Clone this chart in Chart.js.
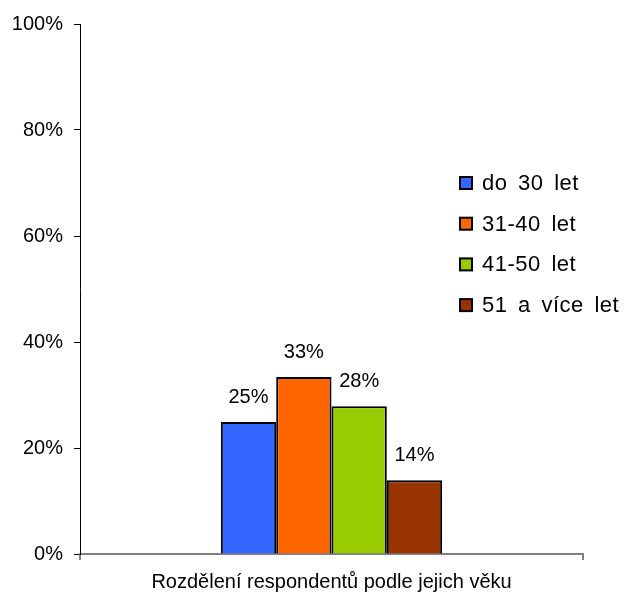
<!DOCTYPE html>
<html>
<head>
<meta charset="utf-8">
<script src="https://cdn.jsdelivr.net/npm/chart.js@4.4.1/dist/chart.umd.min.js"></script>
<style>
    html, body { margin: 0; padding: 0; background: #ffffff; }
    #wrap { width: 624px; height: 595px; }
</style>
</head>
<body>
<div id="wrap"><canvas id="barChart" width="624" height="595"></canvas></div>
<script>
// ==========================================
// Data
// ==========================================
const categories = ["Rozdělení respondentů podle jejich věku"];
const seriesNames = ["do 30 let", "31-40 let", "41-50 let", "51 a více let"];
const seriesValues = [24.9, 33.4, 27.9, 13.9];
const seriesColors = ["#3366FF", "#FF6600", "#99CC00", "#993300"];
const yTicks = [0, 20, 40, 60, 80, 100];

const FONT = "'Liberation Sans', Arial, sans-serif";

// ==========================================
// Value labels above bars
// ==========================================
const valueLabels = {
    id: "valueLabels",
    afterDatasetsDraw(chart) {
        const ctx = chart.ctx;
        ctx.save();
        ctx.font = "20px " + FONT;
        ctx.fillStyle = "#000000";
        ctx.textAlign = "center";
        ctx.textBaseline = "alphabetic";
        chart.data.datasets.forEach((ds, i) => {
            const meta = chart.getDatasetMeta(i);
            meta.data.forEach((bar, j) => {
                ctx.fillText(Math.round(ds.data[j]) + "%", bar.x, bar.y - 19);
            });
        });
        ctx.restore();
    }
};

// ==========================================
// Legend drawn on the plot (right side)
// ==========================================
const sideLegend = {
    id: "sideLegend",
    afterDraw(chart) {
        const ctx = chart.ctx;
        ctx.save();
        ctx.font = "22px " + FONT;
        ctx.textBaseline = "middle";
        ctx.textAlign = "left";
        chart.data.datasets.forEach((ds, i) => {
            const y = 183 + i * 40.7;
            ctx.fillStyle = ds.backgroundColor;
            ctx.fillRect(460, y - 6, 12, 12);
            ctx.strokeStyle = "#000000";
            ctx.lineWidth = 2;
            ctx.strokeRect(460, y - 6, 12, 12);
            ctx.fillStyle = "#000000";
            ctx.letterSpacing = "0.5px";
            ctx.wordSpacing = "4px";
            ctx.fillText(ds.label, 482, y + 1);
        });
        ctx.restore();
    }
};

const ctx = document.getElementById("barChart").getContext("2d");

new Chart(ctx, {

    type: "bar",

    data: {
        labels: categories,
        datasets: seriesNames.map((name, i) => ({
            label: name,
            data: [seriesValues[i]],
            backgroundColor: seriesColors[i],
            borderColor: "#000000",
            borderWidth: 2,
            categoryPercentage: 0.44,
            barPercentage: 1.0
        }))
    },

    options: {
        responsive: false,
        animation: false,
        devicePixelRatio: 1,
        layout: {
            padding: { left: 0, top: 24, right: 41, bottom: 0 }
        },
        plugins: {
            legend: { display: false },
            tooltip: { enabled: false }
        },
        scales: {
            x: {
                grid: {
                    display: true,
                    offset: true,
                    drawOnChartArea: false,
                    drawTicks: true,
                    tickLength: 6,
                    color: "#808080",
                    lineWidth: 2
                },
                border: { display: true, color: "#808080", width: 2 },
                ticks: {
                    color: "#000000",
                    font: { family: FONT, size: 20 },
                    padding: 10,
                    maxRotation: 0
                },
                afterFit(scale) { scale.height = 41; }
            },
            y: {
                min: 0,
                max: 100,
                afterBuildTicks(scale) {
                    scale.ticks = yTicks.map(v => ({ value: v }));
                },
                grid: {
                    display: true,
                    drawOnChartArea: false,
                    drawTicks: true,
                    tickLength: 6,
                    color: "#000000",
                    lineWidth: 1
                },
                border: { display: true, color: "#000000", width: 1 },
                ticks: {
                    color: "#000000",
                    font: { family: FONT, size: 20 },
                    padding: 11,
                    callback: v => v + "%"
                },
                afterFit(scale) { scale.width = 80; }
            }
        }
    },

    plugins: [valueLabels, sideLegend]

});
</script>
</body>
</html>
